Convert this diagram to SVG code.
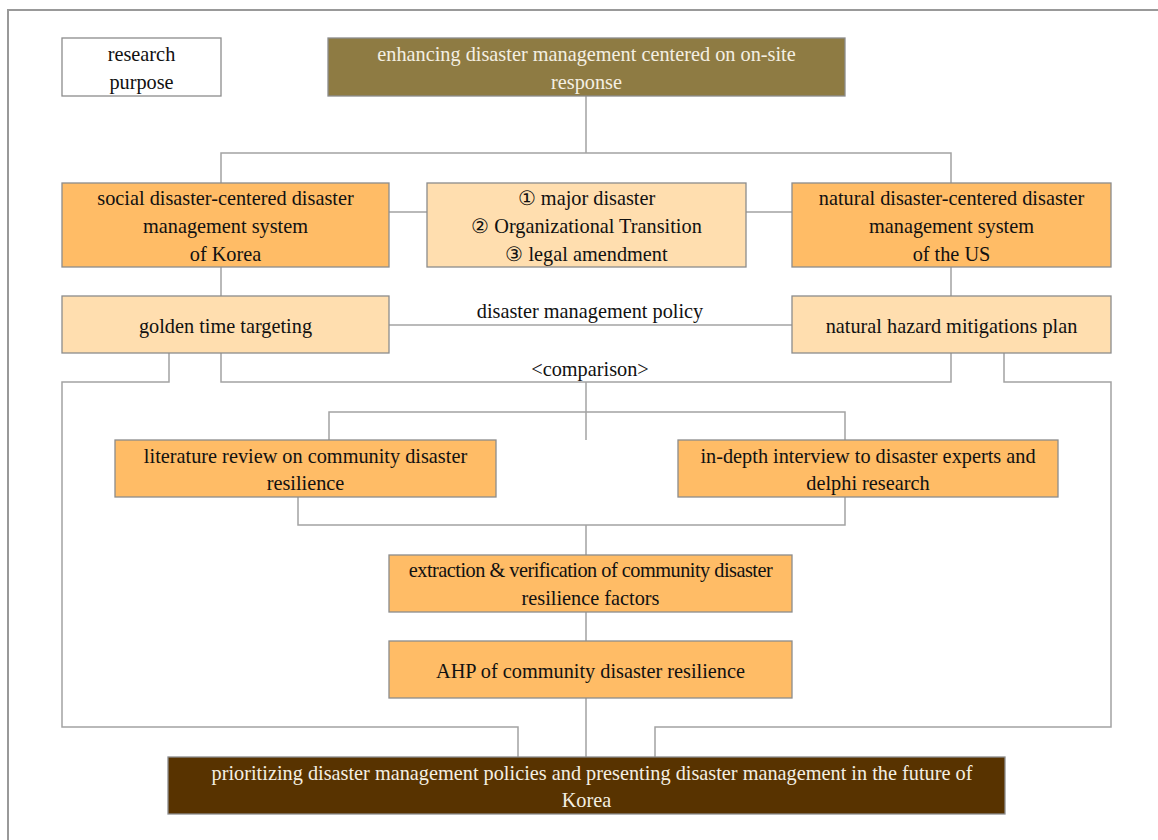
<svg xmlns="http://www.w3.org/2000/svg" width="1158" height="840" viewBox="0 0 1158 840">
<style>
.box{stroke:#8c8c8c;stroke-width:1.3}
.w{fill:#ffffff}
.olive{fill:#8e7b43}
.org{fill:#ffbc66}
.lt{fill:#ffdeaf}
.brn{fill:#583300}
.ln{fill:none;stroke:#a3a3a3;stroke-width:1.5}
text{font-family:"Liberation Serif","Times New Roman",serif;font-size:20.3px;text-anchor:middle;fill:#111}
.inv{fill:#f4efe2}
.tight{letter-spacing:-0.5px}
</style>
<rect width="1158" height="840" fill="#ffffff"/>
<g id="frame"><path d="M8 840 V10 H1158" fill="none" stroke="#999" stroke-width="2"/></g>
<g id="connectors">
<path class="ln" d="M586 96 V153 M221 183 V153 H951 V183"/>
<path class="ln" d="M389 212 H427 M746 212 H792"/>
<path class="ln" d="M221 267 V296 M951 267 V296"/>
<path class="ln" d="M389 325 H792"/>
<path class="ln" d="M169 353 V382 H62 V727 H518 V757"/>
<path class="ln" d="M221 353 V382 H951 V353"/>
<path class="ln" d="M1004 353 V382 H1111 V727 H655 V757"/>
<path class="ln" d="M586 382 V440"/>
<path class="ln" d="M329 440 V412 H845 V440"/>
<path class="ln" d="M298 497 V525 H845 V497 M586 525 V555"/>
<path class="ln" d="M586 612 V641 M586 698 V757"/>
</g>
<g id="n-purpose"><rect class="box w" x="62" y="38" width="159" height="58"/><text x="141.5" y="61">research</text><text x="141.5" y="89">purpose</text></g>
<g id="n-top"><rect class="box olive" x="328" y="38" width="517" height="58"/><text class="inv" x="586.5" y="61">enhancing disaster management centered on on-site</text><text class="inv" x="586.5" y="89">response</text></g>
<g id="n-korea"><rect class="box org" x="62" y="183" width="327" height="84"/><text x="225.5" y="205">social disaster-centered disaster</text><text x="225.5" y="233">management system</text><text x="225.5" y="261">of Korea</text></g>
<g id="n-mid"><rect class="box lt" x="427" y="183" width="319" height="84"/><text x="586.5" y="205">① major disaster</text><text x="586.5" y="233">② Organizational Transition</text><text x="586.5" y="261">③ legal amendment</text></g>
<g id="n-us"><rect class="box org" x="792" y="183" width="319" height="84"/><text x="951.5" y="205">natural disaster-centered disaster</text><text x="951.5" y="233">management system</text><text x="951.5" y="261">of the US</text></g>
<g id="n-golden"><rect class="box lt" x="62" y="296" width="327" height="57"/><text x="225.5" y="333">golden time targeting</text></g>
<g id="n-hazard"><rect class="box lt" x="792" y="296" width="319" height="57"/><text x="951.5" y="333">natural hazard mitigations plan</text></g>
<g id="labels"><text x="590" y="318">disaster management policy</text><text x="590" y="376">&lt;comparison&gt;</text></g>
<g id="n-lit"><rect class="box org" x="115" y="440" width="381" height="57"/><text x="305.5" y="463">literature review on community disaster</text><text x="305.5" y="490">resilience</text></g>
<g id="n-interview"><rect class="box org" x="678" y="440" width="380" height="57"/><text x="868" y="463">in-depth interview to disaster experts and</text><text x="868" y="490">delphi research</text></g>
<g id="n-extract"><rect class="box org" x="389" y="555" width="403" height="57"/><text class="tight" x="590.5" y="577">extraction &amp; verification of community disaster</text><text x="590.5" y="605">resilience factors</text></g>
<g id="n-ahp"><rect class="box org" x="389" y="641" width="403" height="57"/><text x="590.5" y="678">AHP of community disaster resilience</text></g>
<g id="n-final"><rect class="box brn" x="168" y="757" width="837" height="57"/><text class="inv" x="592" y="780">prioritizing disaster management policies and presenting disaster management in the future of</text><text class="inv" x="586.5" y="807">Korea</text></g>
</svg>
